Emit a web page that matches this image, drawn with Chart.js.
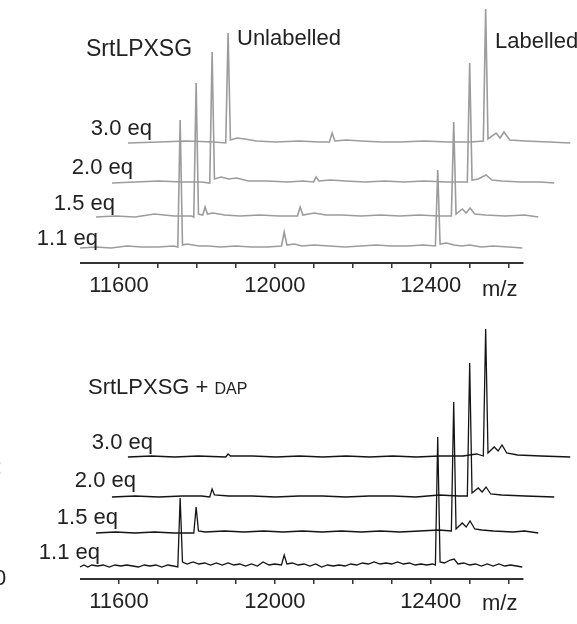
<!DOCTYPE html>
<html>
<head>
<meta charset="utf-8">
<script src="https://cdn.jsdelivr.net/npm/chart.js@4/dist/chart.umd.min.js"></script>
<style>
  body { margin: 0; background: #fff; width: 577px; height: 624px; overflow: hidden; position: relative; font-family: "Liberation Sans", Arial, sans-serif; }
  canvas { position: absolute; left: 0; }
  .t { position: absolute; color: #222; white-space: nowrap; line-height: 1; }
  .eq { font-size: 22px; text-align: right; width: 100px; }
</style>
</head>
<body>
<canvas id="topChart" width="577" height="310" style="top:0"></canvas>
<canvas id="botChart" width="577" height="314" style="top:310px"></canvas>

<div class="t" style="left:86px;top:37px;font-size:23px">SrtLPXSG</div>
<div class="t" style="left:237px;top:27px;font-size:22px">Unlabelled</div>
<div class="t" style="left:495px;top:30px;font-size:22px">Labelled</div>
<div class="t eq" style="left:52px;top:117px">3.0 eq</div>
<div class="t eq" style="left:33px;top:156px">2.0 eq</div>
<div class="t eq" style="left:15px;top:192px">1.5 eq</div>
<div class="t eq" style="left:-2px;top:227px">1.1 eq</div>
<div class="t" style="left:482px;top:278px;font-size:22px">m/z</div>

<div class="t" style="left:88px;top:376px;font-size:22px">SrtLPXSG + <span style="font-size:16px">DAP</span></div>
<div class="t eq" style="left:53px;top:431px">3.0 eq</div>
<div class="t eq" style="left:36px;top:469px">2.0 eq</div>
<div class="t eq" style="left:18px;top:506px">1.5 eq</div>
<div class="t eq" style="left:0px;top:541px">1.1 eq</div>
<div class="t" style="left:482px;top:592px;font-size:22px">m/z</div>
<div class="t" style="left:-4px;top:456px;font-size:22px">:</div>
<div class="t" style="left:-6px;top:567px;font-size:22px">0</div>

<script>
const xMin = 11500, xAxisEnd = 12638, xMax = 12760;
const shiftMz = 41;               // waterfall step along m/z
const tickLabels = [11600, 12000, 12400];

// top panel (SrtLPXSG), grey
const topBase = [14, 45, 79, 119];
const top11 = [[11500,0],[11540,1],[11580,0],[11620,2],[11660,1],[11700,1],[11740,2],[11751,1],[11757,128],[11763,3],[11775,4],[11790,3],[11805,2],[11830,2],[11860,1],[11900,2],[11940,1],[11980,1],[12017,2],[12024,16],[12031,3],[12050,4],[12070,2],[12100,3],[12140,2],[12180,1],[12220,2],[12260,3],[12300,2],[12340,2],[12380,3],[12412,2],[12418,78],[12424,4],[12440,5],[12460,3],[12480,2],[12500,3],[12530,1],[12560,2],[12600,1],[12635,0]];
const top15 = [[11500,0],[11550,1],[11600,0],[11650,3],[11700,1],[11745,1],[11751,0],[11757,134],[11763,3],[11774,2],[11780,10],[11786,3],[11800,4],[11830,2],[11870,1],[11920,2],[11970,1],[12017,1],[12024,10],[12031,2],[12060,4],[12090,2],[12130,2],[12180,1],[12230,2],[12280,1],[12330,2],[12380,1],[12412,1],[12418,95],[12424,3],[12440,8],[12450,4],[12460,9],[12472,3],[12500,2],[12550,1],[12600,2],[12635,0]];
const top20 = [[11500,0],[11560,1],[11620,2],[11680,1],[11730,1],[11751,0],[11757,131],[11763,4],[11780,6],[11800,4],[11820,5],[11850,2],[11900,2],[11950,1],[11990,2],[12017,1],[12024,6],[12031,2],[12060,3],[12100,2],[12150,1],[12200,2],[12250,1],[12300,2],[12360,1],[12412,1],[12418,120],[12424,3],[12440,4],[12460,8],[12475,3],[12500,2],[12550,1],[12600,1],[12635,0]];
const top30 = [[11500,0],[11580,1],[11650,2],[11720,1],[11751,0],[11757,110],[11763,3],[11780,5],[11800,4],[11830,2],[11880,1],[11940,2],[11990,1],[12017,1],[12024,10],[12031,2],[12060,3],[12100,2],[12150,1],[12200,1],[12260,2],[12320,1],[12380,1],[12412,2],[12418,134],[12424,4],[12445,10],[12455,5],[12465,11],[12480,3],[12520,2],[12580,1],[12635,0]];

// bottom panel (SrtLPXSG + DAP), black
const botBase = [11, 45, 81, 121];
const bot11 = [[11500,0],[11510,2],[11520,0],[11530,2],[11545,1],[11560,2],[11575,0],[11590,2],[11605,1],[11620,2],[11635,1],[11650,0],[11665,2],[11680,1],[11695,2],[11710,0],[11725,2],[11740,1],[11751,0],[11757,69],[11763,5],[11775,3],[11790,5],[11805,3],[11820,4],[11835,2],[11850,4],[11865,2],[11880,4],[11895,2],[11910,3],[11925,1],[11940,3],[11955,1],[11970,5],[11985,2],[12000,3],[12017,2],[12024,12],[12031,3],[12045,4],[12060,2],[12075,3],[12090,1],[12105,3],[12120,0],[12135,2],[12150,1],[12165,2],[12180,1],[12195,3],[12210,2],[12225,4],[12240,3],[12255,5],[12270,3],[12285,4],[12300,3],[12315,5],[12330,3],[12345,4],[12360,2],[12375,3],[12390,2],[12405,3],[12412,2],[12418,130],[12424,5],[12435,4],[12450,7],[12460,8],[12470,3],[12485,4],[12500,2],[12515,3],[12530,1],[12545,3],[12560,1],[12575,3],[12590,1],[12605,2],[12620,1],[12635,0]];
const bot15 = [[11500,0],[11550,1],[11600,0],[11650,1],[11700,0],[11751,0],[11757,26],[11763,2],[11780,1],[11830,2],[11880,1],[11930,2],[11980,1],[12030,2],[12080,1],[12130,2],[12180,1],[12230,2],[12280,1],[12330,2],[12380,3],[12412,2],[12418,131],[12424,4],[12440,10],[12450,6],[12460,12],[12472,4],[12490,3],[12520,2],[12570,1],[12600,2],[12635,0]];
const bot20 = [[11500,0],[11560,1],[11620,0],[11680,1],[11730,1],[11751,0],[11757,8],[11763,2],[11800,1],[11860,1],[11920,0],[11980,1],[12040,1],[12100,0],[12160,1],[12220,1],[12280,0],[12340,2],[12390,1],[12412,1],[12418,134],[12424,4],[12440,9],[12450,5],[12460,10],[12472,3],[12500,2],[12560,1],[12635,0]];
const bot30 = [[11500,0],[11560,1],[11620,0],[11680,1],[11751,0],[11757,3],[11763,1],[11820,1],[11880,0],[11940,1],[12000,0],[12060,1],[12120,0],[12180,1],[12240,0],[12300,1],[12360,1],[12395,3],[12412,1],[12418,128],[12424,4],[12440,10],[12450,6],[12460,12],[12472,4],[12500,2],[12560,1],[12635,0]];

function waterfall(traces, base, color, width) {
  return traces.map((tr, i) => ({
    data: tr.map(p => ({ x: p[0] + i * shiftMz, y: base[i] + p[1] })),
    borderColor: color,
    borderWidth: width,
    pointRadius: 0,
    tension: 0,
    clip: false
  }));
}

// axis line only up to xAxisEnd, traces run past it
const axisLine = {
  id: 'axisLine',
  afterDraw(chart) {
    const x = chart.scales.x, ctx = chart.ctx;
    ctx.save();
    ctx.strokeStyle = '#333';
    ctx.lineWidth = 2;
    ctx.beginPath();
    ctx.moveTo(x.getPixelForValue(xMin), x.top + 1);
    ctx.lineTo(x.getPixelForValue(xAxisEnd), x.top + 1);
    ctx.stroke();
    ctx.restore();
  }
};

function makeChart(id, datasets, yMax, axisH) {
  new Chart(document.getElementById(id), {
    type: 'line',
    data: { datasets: datasets },
    plugins: [axisLine],
    options: {
      responsive: false,
      animation: false,
      layout: { padding: { left: 80, right: 6, top: 0, bottom: 0 } },
      plugins: { legend: { display: false }, tooltip: { enabled: false } },
      scales: {
        x: {
          type: 'linear', min: xMin, max: xMax,
          afterFit: s => { s.height = axisH; },
          afterBuildTicks: s => { s.ticks = s.ticks.filter(t => t.value > xMin && t.value < xAxisEnd && t.value % 100 === 0); },
          ticks: {
            stepSize: 100, autoSkip: false, maxRotation: 0, color: '#222', padding: 5,
            font: { family: 'Liberation Sans', size: 22 },
            callback: v => tickLabels.includes(v) ? String(v) : ''
          },
          grid: { drawOnChartArea: false, drawTicks: true, tickLength: 6, color: '#333', lineWidth: 1.5 },
          border: { display: false }
        },
        y: { display: false, min: 0, max: yMax }
      }
    }
  });
}

makeChart('topChart', waterfall([top11, top15, top20, top30], topBase, '#9c9c9c', 1.6), 262, 48);
makeChart('botChart', waterfall([bot11, bot15, bot20, bot30], botBase, '#141414', 1.3), 268, 46);
</script>
</body>
</html>
